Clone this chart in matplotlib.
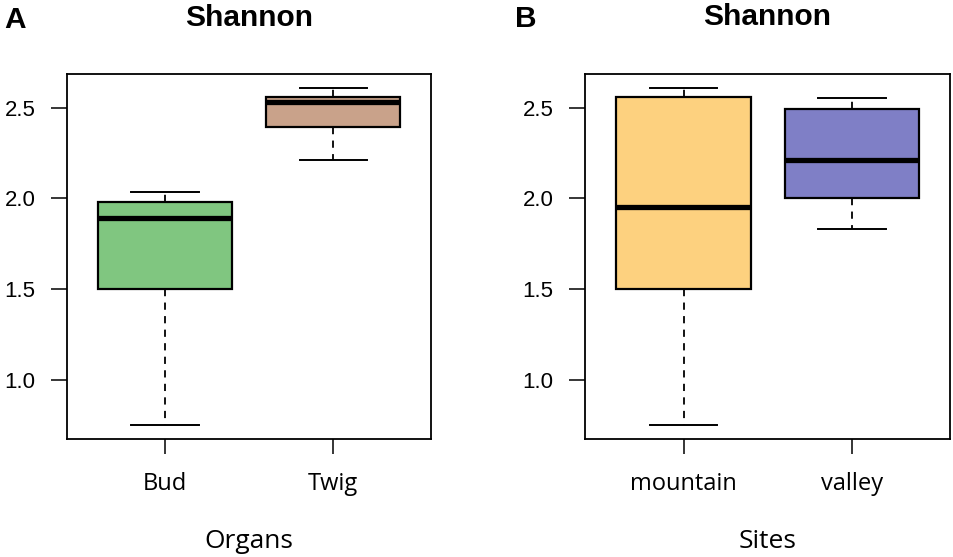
import matplotlib
matplotlib.use("Agg")
import matplotlib.pyplot as plt

# ---- data ----
organs = ["Bud", "Twig"]
organ_whislo = [0.75, 2.21]
organ_q1 = [1.50, 2.39]
organ_med = [1.89, 2.53]
organ_q3 = [1.98, 2.56]
organ_whishi = [2.035, 2.61]
organ_colors = ["#80C680", "#C9A28A"]

sites = ["mountain", "valley"]
site_whislo = [0.75, 1.83]
site_q1 = [1.50, 2.00]
site_med = [1.95, 2.21]
site_q3 = [2.56, 2.49]
site_whishi = [2.61, 2.55]
site_colors = ["#FDD17F", "#7F7FC6"]

yticks = [1.0, 1.5, 2.0, 2.5]
ytick_labels = ["1.0", "1.5", "2.0", "2.5"]

W, H = 954, 557
fig = plt.figure(figsize=(W / 100, H / 100), dpi=100)


def px(x, y):
    return x / W, 1 - y / H


def panel(rect, cats, lo, q1, med, q3, hi, colors, xlabel, letter, letter_x, title_y):
    ax = fig.add_axes(rect)
    stats = []
    for i, c in enumerate(cats):
        stats.append(dict(label=c, whislo=lo[i], q1=q1[i], med=med[i], q3=q3[i], whishi=hi[i], fliers=[]))
    bp = ax.bxp(stats, positions=range(1, len(cats) + 1), widths=0.8, patch_artist=True,
                showfliers=False,
                boxprops=dict(linewidth=1.6, edgecolor="black"),
                medianprops=dict(linewidth=3.8, color="black", solid_capstyle="butt"),
                whiskerprops=dict(linewidth=1.3, color="black", linestyle=(0, (4, 3.5))),
                capprops=dict(linewidth=1.4, color="black"),
                capwidths=0.4)
    for patch, col in zip(bp["boxes"], colors):
        patch.set_facecolor(col)
    allv = lo + hi
    vmin, vmax = min(allv), max(allv)
    pad = 0.04 * (vmax - vmin)
    ax.set_ylim(vmin - pad, vmax + pad)
    ax.set_xlim(0.415, 2.58)
    ax.set_yticks(yticks)
    ax.set_yticklabels(ytick_labels, family="Liberation Sans", fontsize=16)
    ax.set_xticks(range(1, len(cats) + 1))
    ax.set_xticklabels(cats, family="Open Sans", fontsize=17)
    ax.tick_params(axis="y", length=11.5, width=1.1, pad=11, colors="black")
    ax.tick_params(axis="x", length=11, width=1.1, pad=13, colors="black")
    for s in ax.spines.values():
        s.set_linewidth(1.3)
    cx = rect[0] + rect[2] / 2
    fig.text(cx, title_y, "Shannon", ha="center", va="baseline", fontsize=21.5,
             fontweight="bold", family="Liberation Sans")
    fig.text(letter_x, title_y - 0.003, letter, ha="left", va="baseline", fontsize=21.5,
             fontweight="bold", family="Liberation Sans")
    fig.text(cx, px(0, 548)[1], xlabel, ha="center", va="baseline", fontsize=19,
             family="Open Sans")
    return ax


bottom = 1 - 439 / H
top = 1 - 74 / H
panel([66.7 / W, bottom, (430.7 - 66.7) / W, top - bottom], organs,
      organ_whislo, organ_q1, organ_med, organ_q3, organ_whishi, organ_colors,
      "Organs", "A", 4 / W, 1 - 26 / H)
panel([585 / W, bottom, (949.7 - 585) / W, top - bottom], sites,
      site_whislo, site_q1, site_med, site_q3, site_whishi, site_colors,
      "Sites", "B", 515 / W, 1 - 25 / H)

fig.savefig("out.png", dpi=100)
